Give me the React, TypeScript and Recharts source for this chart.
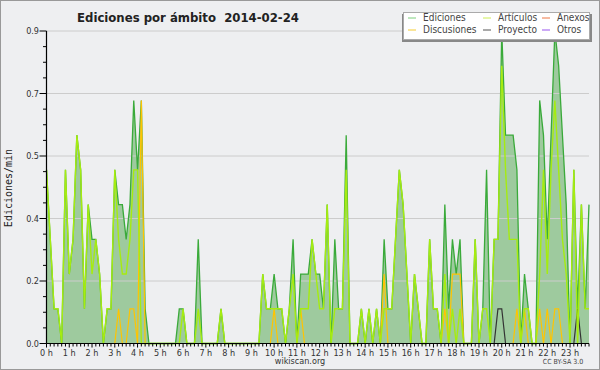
import React from "react";
import { ComposedChart, Area, Line, XAxis, YAxis, ReferenceLine } from "recharts";

// edits per minute, one value per 10 minutes (00:00 ... 23:50)
const ediciones = [
  0.5, 0.3, 0.1, 0.1, 0, 0.5,
  0.2, 0.3, 0.6, 0.5, 0.1, 0.4,
  0.3, 0.3, 0.2, 0, 0.1, 0.1,
  0.5, 0.4, 0.4, 0.3, 0.4, 0.7,
  0.5, 0.7, 0.1, 0, 0, 0,
  0, 0, 0, 0, 0, 0.1,
  0.1, 0, 0, 0, 0.3, 0,
  0, 0, 0, 0, 0.1, 0,
  0, 0, 0, 0, 0, 0,
  0, 0, 0, 0.2, 0.1, 0.1,
  0.2, 0.1, 0.1, 0, 0.1, 0.3,
  0, 0.2, 0.2, 0.2, 0.3, 0.2,
  0.2, 0.1, 0.4, 0, 0.3, 0.1,
  0.1, 0.6, 0, 0, 0, 0.1,
  0, 0.1, 0, 0.1, 0, 0.3,
  0.1, 0.1, 0.3, 0.5, 0.4, 0.2,
  0, 0.2, 0.1, 0, 0, 0.3,
  0.1, 0.1, 0, 0.4, 0.1, 0.3,
  0.2, 0.3, 0, 0, 0, 0.3,
  0, 0.1, 0.5, 0, 0.3, 0.3,
  0.9, 0.6, 0.6, 0.6, 0.5, 0,
  0.2, 0.1, 0, 0, 0.7, 0.6,
  0.3, 0.6, 0.9, 0.8, 0.6, 0.4,
  0, 0.5, 0.1, 0.4, 0.1, 0.4,
];

const articulos = [
  0.5, 0.3, 0.1, 0.1, 0, 0.5,
  0.2, 0.3, 0.6, 0.5, 0.1, 0.4,
  0.2, 0.3, 0.2, 0, 0.1, 0.1,
  0.5, 0.3, 0.2, 0.2, 0.3, 0.5,
  0.5, 0, 0, 0, 0, 0,
  0, 0, 0, 0, 0, 0,
  0.1, 0, 0, 0, 0.1, 0,
  0, 0, 0, 0, 0.1, 0,
  0, 0, 0, 0, 0, 0,
  0, 0, 0, 0.2, 0.1, 0.1,
  0.1, 0.1, 0.1, 0, 0.1, 0.2,
  0, 0.1, 0.1, 0.1, 0.3, 0.2,
  0.1, 0.1, 0.4, 0, 0.1, 0.1,
  0.1, 0.5, 0, 0, 0, 0.1,
  0, 0.1, 0, 0.1, 0, 0.1,
  0.1, 0.1, 0.3, 0.5, 0.4, 0.2,
  0, 0.2, 0.1, 0, 0, 0.3,
  0.1, 0.1, 0, 0.2, 0, 0.1,
  0, 0.1, 0, 0, 0, 0.3,
  0, 0.1, 0.1, 0, 0.3, 0.3,
  0.8, 0.5, 0.3, 0.3, 0.3, 0,
  0.1, 0.1, 0, 0, 0.2, 0.5,
  0.2, 0.5, 0.7, 0.5, 0.3, 0.2,
  0, 0.5, 0, 0.4, 0.1, 0.1,
];

const discusiones = [
  0, 0, 0, 0, 0, 0,
  0, 0, 0, 0, 0, 0,
  0, 0, 0, 0, 0, 0,
  0, 0.1, 0, 0, 0.1, 0.1,
  0, 0.7, 0, 0, 0, 0,
  0, 0, 0, 0, 0, 0,
  0, 0, 0, 0, 0, 0,
  0, 0, 0, 0, 0, 0,
  0, 0, 0, 0, 0, 0,
  0, 0, 0, 0, 0, 0,
  0.1, 0, 0, 0, 0, 0,
  0, 0.1, 0, 0, 0, 0,
  0, 0, 0, 0, 0, 0,
  0, 0, 0, 0, 0, 0,
  0, 0, 0, 0, 0, 0.2,
  0, 0, 0, 0, 0, 0,
  0, 0, 0, 0, 0, 0,
  0, 0, 0, 0.1, 0, 0.2,
  0.2, 0.2, 0, 0, 0, 0,
  0, 0, 0, 0, 0, 0,
  0, 0, 0, 0, 0.1, 0,
  0.1, 0, 0, 0, 0.1, 0,
  0.1, 0, 0.1, 0.1, 0, 0,
  0, 0, 0, 0, 0, 0,
];

const proyecto = [
  ...Array(114).fill(0),
  0, 0, 0, 0, 0, 0.1,
  0.1, 0, 0, 0, 0, 0,
  0, 0, 0, 0, 0, 0,
  0, 0, 0, 0, 0, 0,
  0, 0, 0.1, 0, 0, 0,
];

const legendNames = ["Ediciones", "Artículos", "Anexos", "Discusiones", "Proyecto", "Otros"];
const legendColors = ["#7ccf7c", "#ccee55", "#ee7744", "#f5cc33", "#555555", "#9955ee"];

const yMax = 0.9;
const yStep = 0.045;
const yTicks = Array.from({ length: 21 }, (_, k) => +(k * yStep).toFixed(3));
const yGrid = [0.18, 0.36, 0.54, 0.72, 0.9];

const data = ediciones.map((v, i) => ({
  i,
  ediciones: v,
  articulos: articulos[i],
  discusiones: discusiones[i],
  proyecto: proyecto[i],
}));
const xTicks = data.map((d) => d.i);

const FONT = "'DejaVu Sans Condensed', 'DejaVu Sans', sans-serif";
const BG = "#eeeff1";

function XTick(props: any) {
  const { x, y, payload } = props;
  const i = payload.value;
  const hour = i % 6 === 0;
  return (
    <g>
      <line x1={x} x2={x} y1={y} y2={y + (hour ? 4 : 3)} stroke="#000" />
      {hour && (
        <text x={x} y={y + 12} textAnchor="middle" fontSize={9} fill="#333" fontFamily={FONT}>
          {`${i / 6} h`}
        </text>
      )}
    </g>
  );
}

function YTick(props: any) {
  const { x, y, payload } = props;
  const k = Math.round(payload.value / yStep);
  const major = k % 4 === 0;
  return (
    <g>
      <line x1={x - (major ? 7 : 3.5)} x2={x} y1={y} y2={y} stroke="#000" />
      {major && (
        <text x={x - 7.5} y={y + 3} textAnchor="end" fontSize={9} fill="#333" fontFamily={FONT}>
          {payload.value.toFixed(1)}
        </text>
      )}
    </g>
  );
}

export default function App() {
  const colX = [408, 483, 542];
  const rowY = [21, 33];
  return (
    <div style={{ position: "absolute", left: 0, top: 0, width: 600, height: 370, background: BG }}>
      <ComposedChart
        width={600}
        height={370}
        data={data}
        margin={{ top: 31, right: 11, bottom: 0, left: 0 }}
      >
        {yGrid.map((v) => (
          <ReferenceLine key={v} y={v} stroke="#cccccc" strokeWidth={1} ifOverflow="extendDomain" />
        ))}
        <Area
          type="linear"
          dataKey="ediciones"
          stroke="none"
          fill="#9eca9e"
          fillOpacity={1}
          isAnimationActive={false}
        />
        <Line type="linear" dataKey="proyecto" stroke="#333333" strokeWidth={1.2} dot={false} isAnimationActive={false} />
        <Line type="linear" dataKey="ediciones" stroke="#3aaa3a" strokeWidth={1.3} dot={false} isAnimationActive={false} />
        <Line type="linear" dataKey="discusiones" stroke="#ffc400" strokeWidth={1.2} dot={false} isAnimationActive={false} />
        <Line type="linear" dataKey="articulos" stroke="#a6ec10" strokeWidth={1.4} dot={false} isAnimationActive={false} />
        <XAxis
          dataKey="i"
          type="number"
          domain={[0, 143]}
          ticks={xTicks}
          interval={0}
          height={26.5}
          tickSize={0}
          tickMargin={0}
          tick={<XTick />}
          axisLine={{ stroke: "#000", strokeWidth: 1.2 }}
          tickLine={false}
        />
        <YAxis
          type="number"
          domain={[0, yMax]}
          ticks={yTicks}
          interval={0}
          width={46.5}
          tickSize={0}
          tickMargin={0}
          tick={<YTick />}
          axisLine={{ stroke: "#000", strokeWidth: 1.2 }}
          tickLine={false}
        />
      </ComposedChart>
      <svg
        width={600}
        height={370}
        style={{ position: "absolute", left: 0, top: 0, pointerEvents: "none" }}
      >
        <rect x={0.5} y={0.5} width={599} height={369} fill="none" stroke="#999" />
        <text
          x={188}
          y={22}
          textAnchor="middle"
          fontSize={13}
          fontWeight="bold"
          fill="#222"
          fontFamily={FONT}
          style={{ whiteSpace: "pre" }}
        >
          {"Ediciones por ámbito  2014-02-24"}
        </text>
        <text
          transform="translate(12,188) rotate(-90)"
          textAnchor="middle"
          fontSize={10}
          fill="#222"
          fontFamily="'DejaVu Sans Mono', monospace"
        >
          Ediciones/min
        </text>
        <rect x={402} y={14} width={190} height={28} fill="#888" />
        <rect x={403.5} y={12.5} width={186} height={27} fill="#fff" stroke="#aaa" />
        {legendNames.map((name, k) => {
          const cx = colX[k % 3];
          const cy = rowY[Math.floor(k / 3)];
          return (
            <g key={name}>
              <line x1={cx} x2={cx + 8} y1={cy - 3} y2={cy - 3} stroke={legendColors[k]} strokeWidth={1} />
              <text x={cx + 15} y={cy} fontSize={10} fill="#444" fontFamily={FONT}>
                {name}
              </text>
            </g>
          );
        })}
        <text x={300} y={364} textAnchor="middle" fontSize={9} fill="#333" fontFamily={FONT}>
          wikiscan.org
        </text>
        <text x={563} y={364} textAnchor="middle" fontSize={7} fill="#444" fontFamily={FONT}>
          CC BY-SA 3.0
        </text>
      </svg>
    </div>
  );
}
